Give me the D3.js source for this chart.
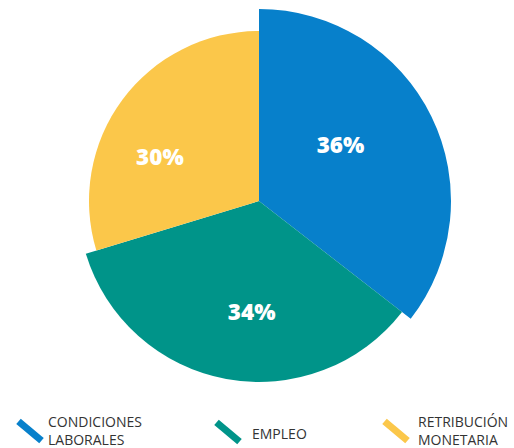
<!DOCTYPE html>
<html>
<head>
<meta charset="utf-8">
<script src="https://cdn.jsdelivr.net/npm/d3@7"></script>
<style>
  html, body { margin: 0; padding: 0; background: #fff; }
  svg { display: block; }
</style>
</head>
<body>
<script>
const categories = ['CONDICIONES LABORALES', 'EMPLEO', 'RETRIBUCIÓN MONETARIA'];
// slice sizes as drawn (the printed labels are rounded differently)
const values = [35.5, 34.8, 29.7];
const labels = ['36%', '34%', '30%'];
const colors = ['#0780cb', '#009489', '#fbc74a'];
// each slice has its own outer radius in the original
const radii = [192, 181, 170];

const width = 514;
const height = 448;
const cx = 259;
const cy = 201;

const svg = d3.select('body')
  .append('svg')
  .attr('width', width)
  .attr('height', height);

const pie = d3.pie().sort(null).value((d) => d);
const arcs = pie(values);

const g = svg.append('g').attr('transform', `translate(${cx},${cy})`);

g.selectAll('path')
  .data(arcs)
  .enter()
  .append('path')
  .attr('fill', (d, i) => colors[i])
  .attr('d', (d, i) => d3.arc().innerRadius(0).outerRadius(radii[i])(d));

// labels sit a bit counter-clockwise of the slice middle
const labelOffset = -0.16;
const labelR = 106;
const lg = svg.append('g').attr('transform', `translate(${cx - 5},${cy + 5})`);
lg.selectAll('text')
  .data(arcs)
  .enter()
  .append('text')
  .attr('x', (d) => labelR * Math.sin((d.startAngle + d.endAngle) / 2 + labelOffset))
  .attr('y', (d) => -labelR * Math.cos((d.startAngle + d.endAngle) / 2 + labelOffset))
  .attr('text-anchor', 'middle')
  .attr('dy', '0.36em')
  .attr('fill', '#fff')
  .style('font-family', '"Open Sans", sans-serif')
  .style('font-weight', 800)
  .style('font-size', '22.5px')
  .text((d, i) => labels[i]);

// legend
const markerX = d3.scaleOrdinal().domain(categories).range([30, 228, 396]);
const textX = d3.scaleOrdinal().domain(categories).range([48, 252, 418]);
const legend = svg.append('g');
const item = legend.selectAll('g')
  .data(categories)
  .enter()
  .append('g');

item.append('rect')
  .attr('x', -15)
  .attr('y', -3.5)
  .attr('width', 30)
  .attr('height', 7)
  .attr('transform', (d, i) => `translate(${markerX(d)},${i === 1 ? 432 : 431}) rotate(40)`)
  .attr('fill', (d, i) => colors[i]);

item.append('text')
  .attr('fill', '#333')
  .style('font-family', '"Open Sans", sans-serif')
  .style('font-size', '14px')
  .each(function (d) {
    const words = d.split(' ');
    const t = d3.select(this);
    const x = textX(d);
    if (words.length === 1) {
      t.append('tspan').attr('x', x).attr('y', 439).text(d);
    } else {
      t.append('tspan').attr('x', x).attr('y', 427).text(words[0]);
      t.append('tspan').attr('x', x).attr('y', 445).text(words.slice(1).join(' '));
    }
  });
</script>
</body>
</html>
